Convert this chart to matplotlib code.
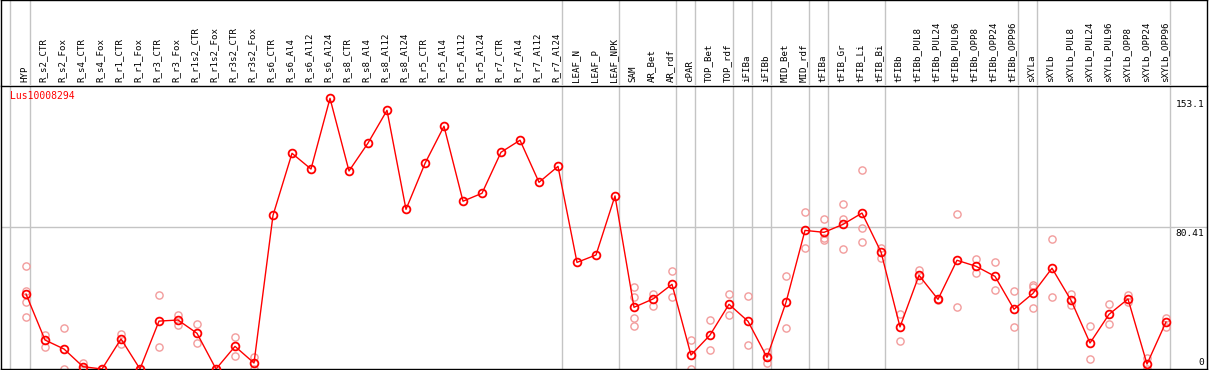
import numpy as np
import matplotlib.pyplot as plt
from matplotlib import transforms

# Sample names along the top of the chart
labels = ['HYP', 'R_s2_CTR', 'R_s2_Fox', 'R_s4_CTR', 'R_s4_Fox', 'R_r1_CTR', 'R_r1_Fox',
          'R_r3_CTR', 'R_r3_Fox', 'R_r1s2_CTR', 'R_r1s2_Fox', 'R_r3s2_CTR', 'R_r3s2_Fox',
          'R_s6_CTR', 'R_s6_Al4', 'R_s6_Al12', 'R_s6_Al24', 'R_s8_CTR', 'R_s8_Al4',
          'R_s8_Al12', 'R_s8_Al24', 'R_r5_CTR', 'R_r5_Al4', 'R_r5_Al12', 'R_r5_Al24',
          'R_r7_CTR', 'R_r7_Al4', 'R_r7_Al12', 'R_r7_Al24', 'LEAF_N', 'LEAF_P', 'LEAF_NPK',
          'SAM', 'AR_Bet', 'AR_rdf', 'cPAR', 'TOP_Bet', 'TOP_rdf', 'iFIBa', 'iFIBb',
          'MID_Bet', 'MID_rdf', 'tFIBa', 'tFIB_Gr', 'tFIB_Li', 'tFIB_Bi', 'tFIBb',
          'tFIBb_PUL8', 'tFIBb_PUL24', 'tFIBb_PUL96', 'tFIBb_OPP8', 'tFIBb_OPP24',
          'tFIBb_OPP96', 'sXYLa', 'sXYLb', 'sXYLb_PUL8', 'sXYLb_PUL24', 'sXYLb_PUL96',
          'sXYLb_OPP8', 'sXYLb_OPP24', 'sXYLb_OPP96']

# Mean expression per sample (red line)
means = [42.4, 16.4, 11.3, 1.3, 0.0, 17.0, 0.0,
         27.1, 27.7, 20.2, 0.0, 12.8, 3.4,
         86.9, 122.0, 113.1, 153.1, 112.0, 127.8,
         146.3, 90.3, 116.3, 137.3, 94.9, 99.4,
         122.6, 129.4, 105.6, 114.6, 60.3, 64.5, 97.9,
         34.9, 39.6, 47.9, 7.9, 19.2, 36.6, 27.0, 6.6,
         37.7, 78.4, 77.3, 81.8, 88.2, 66.2, 23.8,
         53.0, 39.4, 61.5, 58.1, 52.4,
         33.8, 42.8, 57.0, 38.9, 14.7, 30.9,
         39.6, 2.8, 26.6]

# Individual replicates (pale circles)
replicates = [[58.3, 44.1, 37.7, 29.2], [19.2, 12.6], [23.0, 0.0], [3.2, 0.0], [0.0], [19.8, 14.0], [0.0],
              [41.7, 12.3], [30.5, 24.9], [25.3, 14.5], [0.0], [17.9, 7.5], [7.0, 0.0],
              [], [], [], [], [], [],
              [], [], [], [], [], [],
              [], [], [], [], [], [], [],
              [46.2, 40.6, 28.8, 24.3], [42.6, 35.8], [55.4, 40.6], [16.2, 0.0], [27.7, 10.6],
              [42.2, 30.7], [41.1, 13.6], [9.8, 3.6, 6.6],
              [52.4, 23.2], [88.6, 68.3], [84.7, 73.9, 72.8], [93.2, 84.8, 67.7],
              [112.4, 79.6, 71.7], [68.6, 62.8], [30.9, 15.7],
              [56.0, 50.3], [39.4, 39.0], [87.5, 35.1], [62.2, 54.5], [60.5, 44.7],
              [44.1, 23.8], [47.5, 46.2, 34.3], [73.4, 40.7], [42.4, 36.0], [24.3, 5.5],
              [36.6, 25.3], [41.7, 37.7], [6.4, 0.0], [28.7, 23.8]]

# Group separators sit just after these samples
group_ends = [0, 28, 31, 34, 35, 37, 38, 39, 41, 42, 45, 52, 53, 60]
ref_values = [153.1, 80.41, 0]
gene = 'Lus10008294'

W, H = 1209, 370
fig = plt.figure(figsize=(W / 100, H / 100), dpi=100)
grey = '#c4c4c4'
mono = 'DejaVu Sans Mono'

# main plotting area and the header with the sample names
ax = fig.add_axes([1 / W, 1 / H, 1206 / W, 283 / H])
hdr = fig.add_axes([1 / W, 285 / H, 1206 / W, 85 / H], sharex=ax)

x = np.arange(len(labels))
ax.set_xlim(-25 / 19, -25 / 19 + 1206 / 19)
ax.set_ylim(0, 283 / 1.768)
hdr.set_ylim(0, 1)

for a in (ax, hdr):
    a.set_xticks([])
    a.set_yticks([])
    for s in a.spines.values():
        s.set_linewidth(1.0)
        s.set_color('black')
    a.axvline(-0.84, color=grey, lw=1.0, zorder=0)
    for g in group_ends:
        a.axvline(g + 0.23, color=grey, lw=1.0, zorder=0)
hdr.spines['bottom'].set_visible(False)

ax.axhline(80.41, color=grey, lw=1.0, zorder=0)

# replicates
for i, reps in enumerate(replicates):
    ax.plot([i] * len(reps), reps, 'o', mfc='none', mec='#f29c9c', ms=5.2, mew=1.0, zorder=2)

# mean line
ax.plot(x, means, color='red', lw=1.0, marker='o', mfc='none', mec='red', ms=5.6, mew=1.3, zorder=3)

# sample names, rotated
tr = transforms.blended_transform_factory(hdr.transData, hdr.transAxes)
for i, lab in enumerate(labels):
    hdr.text(i - 0.08, 0.03, lab, rotation=90, ha='center', va='bottom',
             family=mono, fontsize=6.6, transform=tr)

ax.text(9 / 1206, 0.982, gene, color='red', family=mono, fontsize=7,
        ha='left', va='top', transform=ax.transAxes)

# value labels on the right
ty = transforms.blended_transform_factory(ax.transAxes, ax.transData)
for v in ref_values:
    txt = '%g' % v
    if v == 0:
        ax.annotate(txt, (0.998, v), xycoords=ty, xytext=(0, 2), textcoords='offset pixels',
                    ha='right', va='bottom', family=mono, fontsize=6.8)
    else:
        ax.annotate(txt, (0.998, v), xycoords=ty, xytext=(0, -2), textcoords='offset pixels',
                    ha='right', va='top', family=mono, fontsize=6.8,
                    bbox=dict(fc='white', ec='none', pad=0.5))

fig.savefig('out.png', dpi=100)
